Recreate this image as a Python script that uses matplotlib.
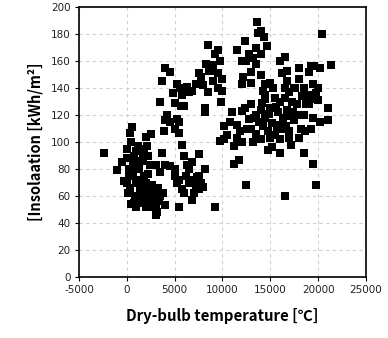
import matplotlib
matplotlib.use("Agg")
import matplotlib.pyplot as plt

# Cluster A: low temperature, low insolation
xa = [-2400, -1000, -500, 0, 0, 300, 500, 400, 0, 200, 500, 300, 800, 1000, 1200, 1500, 1800, 2000, 2500,
      1700, 2200, 2400, 1300, 1000, 700, 1000, 400, 1500, 2000, 2200, 2500, 2700, 3000, 3000, 3200, 2500,
      2000, 1700, 2800, 3300, 3500, 3800, 4000, 3500, 3000, 3700, 2200, 1800, 1200, 600, -300, 100, 1500,
      3400, 2600, 2000, 800, 1100, 1400, 2300, 2900, 600, 900, 1600, 200, 2100, 2600, 3100]
ya = [92, 79, 85, 70, 95, 107, 111, 100, 88, 80, 75, 66, 85, 93, 97, 95, 92, 104, 106,
      88, 90, 83, 80, 70, 55, 52, 54, 63, 65, 60, 58, 55, 50, 46, 48, 52,
      52, 58, 62, 66, 60, 62, 53, 78, 83, 92, 76, 75, 72, 78, 71, 62, 55,
      56, 68, 70, 90, 82, 66, 57, 59, 83, 60, 86, 76, 97, 64, 53]

# Cluster B: mid temperature, low insolation
xb = [4000, 4500, 5000, 5200, 5000, 5500, 5800, 6000, 6200, 6000, 5800, 6500, 6800, 7000, 7200, 7500,
      6800, 7000, 7500, 7800, 8000, 8200, 7500, 6500, 5500, 9200, 6300, 7300]
yb = [83, 82, 80, 70, 75, 52, 65, 62, 75, 90, 98, 80, 85, 72, 68, 91,
      57, 62, 75, 70, 67, 80, 65, 70, 72, 52, 83, 74]

# Cluster C: mid temperature, high insolation
xc = [3500, 3700, 4000, 4500, 4800, 5000, 4000, 4200, 3900, 4500, 5000, 5200, 5500, 5500, 5700, 6000,
      5200, 5600, 6000, 6300, 6500, 5800, 7200, 7500, 7800, 8000, 8300, 8500, 8600, 9000, 9200, 9500,
      9700, 9500, 10000, 9500, 10000, 9800, 8200, 8200, 8500, 8800, 9700, 10200, 10200, 6800, 9000]
yc = [130, 145, 155, 152, 136, 129, 116, 120, 108, 115, 110, 117, 115, 107, 127, 127,
      143, 140, 138, 141, 137, 135, 143, 151, 148, 142, 158, 172, 153, 157, 165, 168,
      160, 151, 147, 140, 138, 130, 125, 122, 137, 153, 101, 112, 102, 138, 145]

# Cluster D: high temperature
xd = [11000, 11500, 12000, 12400, 12200, 12500, 12800, 13000, 13200, 13500, 13600, 13700, 14000, 14300,
      14700, 13500, 14000, 13000, 12000, 14000, 14200, 14500, 15000, 15300, 16000, 16200, 16500, 16800,
      16500, 17000, 17500, 18000, 18000, 18500, 19000, 19300, 19600, 20200, 20400, 21300, 19500, 19000,
      20000, 20000, 21000, 21000, 20200, 19500, 19300, 18600, 18500, 19500, 19800, 16500, 16000, 14800,
      12500, 11200, 11700, 11200, 10500, 10800, 11500, 11800, 12000, 12400, 12800, 13000, 13200, 13500,
      13800, 14000, 14200, 14500, 14800, 15000, 15200, 15500, 15800, 16000, 16300, 16600, 16800, 17000,
      17200, 17500, 17800, 18000, 18300, 18700, 17300, 16500, 15500, 14500, 15000, 15700, 16200, 17000,
      18000, 18200, 19000, 19500, 18500, 17600, 16800, 12000, 11500, 13000, 14000, 15200, 16000, 13500,
      14500, 12600, 13300, 14100, 15600, 17400, 18800, 19800, 17100, 15900, 14900]
yd = [122, 168, 160, 175, 148, 160, 165, 152, 162, 170, 189, 181, 182, 178,
      171, 158, 165, 144, 143, 150, 138, 143, 144, 140, 160, 151, 163, 153,
      140, 137, 140, 155, 147, 140, 152, 156, 156, 155, 180, 157, 143, 135,
      131, 140, 125, 116, 115, 118, 110, 108, 92, 84, 68, 60, 92, 94,
      68, 84, 87, 97, 105, 115, 113, 108, 123, 125, 117, 110, 100, 106,
      115, 124, 112, 118, 108, 125, 114, 105, 122, 130, 118, 112, 124, 108,
      98, 116, 128, 120, 134, 128, 130, 133, 133, 132, 103, 110, 110, 103,
      103, 110, 128, 132, 120, 140, 145, 100, 103, 128, 102, 96, 102, 120,
      135, 110, 118, 129, 126, 122, 134, 136, 119, 113, 121]

x_vals = xa + xb + xc + xd
y_vals = ya + yb + yc + yd

x_ticks = [-5000, 0, 5000, 10000, 15000, 20000, 25000]
y_ticks = [0, 20, 40, 60, 80, 100, 120, 140, 160, 180, 200]

fig = plt.figure(figsize=(3.88, 3.38), dpi=100)
ax = fig.add_axes([0.2036, 0.1805, 0.7394, 0.7985])
ax.scatter(x_vals, y_vals, marker='s', s=36, c='black', linewidths=0, zorder=3)

ax.set_xlim(-5000, 25000)
ax.set_ylim(0, 200)
ax.set_xticks(x_ticks)
ax.set_yticks(y_ticks)
ax.set_xticklabels([str(t) for t in x_ticks], fontsize=7.5, color='#222222')
ax.set_yticklabels([str(t) for t in y_ticks], fontsize=7.5, color='#222222')
ax.grid(True, linestyle=(0, (3, 3)), color='#d0d0d0', linewidth=0.8, zorder=0)
ax.tick_params(length=3, width=0.8, pad=3)
for sp in ax.spines.values():
    sp.set_linewidth(1.2)
    sp.set_color('black')

fam = ['Noto Sans CJK KR', 'DejaVu Sans']
ax.set_xlabel('Dry-bulb temperature [℃]', fontsize=10.8, fontweight='bold', family=fam, labelpad=9)
ax.set_ylabel('[Insolaation [kWh/m²]', fontsize=10.5, fontweight='bold', family=fam, labelpad=5)

fig.savefig('out.png', dpi=100)
